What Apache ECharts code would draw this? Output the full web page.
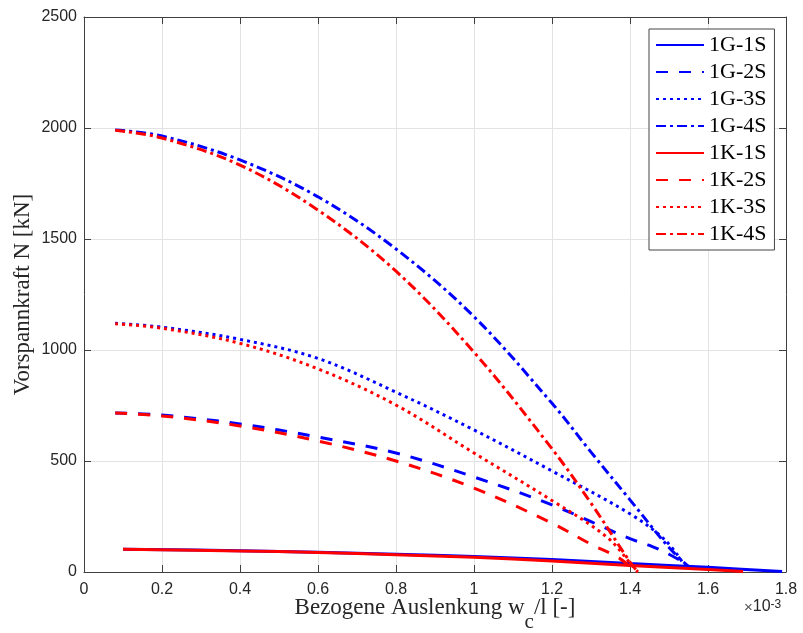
<!DOCTYPE html>
<html>
<head>
<meta charset="utf-8">
<script src="https://cdn.jsdelivr.net/npm/echarts@6/dist/echarts.min.js"></script>
<style>
html,body{margin:0;padding:0;background:#fff;}
#chart{width:803px;height:633px;}
</style>
</head>
<body>
<div id="chart"></div>
<script>
// ---- data (x in 10^-3, y in kN) ----
const xTicks = [0, 0.2, 0.4, 0.6, 0.8, 1, 1.2, 1.4, 1.6, 1.8];
const yTicks = [0, 500, 1000, 1500, 2000, 2500];

const seriesNames = ['1G-1S','1G-2S','1G-3S','1G-4S','1K-1S','1K-2S','1K-3S','1K-4S'];

const g1x = [0.1, 0.4, 0.6, 0.8, 1.0, 1.2, 1.4, 1.6, 1.79];
const g1y = [102, 96, 89, 80, 70, 56, 38, 21, 2];
const g2x = [0.08, 0.2, 0.4, 0.6, 0.8, 1.0, 1.2, 1.4, 1.45, 1.5, 1.55];
const g2y = [716, 707, 667, 608, 536, 428, 302, 150, 120, 80, 30];
const g3x = [0.08, 0.2, 0.4, 0.6, 0.8, 1.0, 1.2, 1.4, 1.49, 1.54];
const g3y = [1120, 1103, 1048, 962, 810, 640, 455, 262, 144, 30];
const g4x = [0.08, 0.2, 0.4, 0.6, 0.8, 1.0, 1.2, 1.3, 1.4, 1.5, 1.55];
const g4y = [1991, 1964, 1856, 1690, 1455, 1150, 760, 540, 325, 110, 25];

const k1x = [0.1, 0.4, 0.6, 0.8, 1.0, 1.2, 1.4, 1.6, 1.69];
const k1y = [102, 95, 88, 78, 66, 49, 29, 11, 2];
const k2x = [0.08, 0.2, 0.4, 0.6, 0.8, 1.0, 1.2, 1.3, 1.37, 1.41, 1.42];
const k2y = [716, 703, 658, 590, 500, 378, 220, 125, 65, 10, 0];
const k3x = [0.08, 0.2, 0.4, 0.6, 0.8, 1.0, 1.2, 1.34, 1.41, 1.42];
const k3y = [1118, 1098, 1030, 915, 752, 536, 322, 158, 20, 0];
const k4x = [0.08, 0.2, 0.4, 0.6, 0.8, 1.0, 1.2, 1.3, 1.4, 1.42];
const k4y = [1990, 1955, 1833, 1630, 1355, 990, 555, 310, 45, 0];

const xs = [g1x, g2x, g3x, g4x, k1x, k2x, k3x, k4x];
const ys = [g1y, g2y, g3y, g4y, k1y, k2y, k3y, k4y];

// ---- styles ----
const colors = ['#0000ff','#0000ff','#0000ff','#0000ff','#ff0000','#ff0000','#ff0000','#ff0000'];
const dashes = ['solid', [12, 11], [3, 4], [10, 4, 3, 4], 'solid', [12, 11], [3, 4], [10, 4, 3, 4]];

const axisColor = '#404040';
const textColor = '#262626';
const gridColor = '#e3e3e3';

const series = seriesNames.map((name, i) => ({
  name: name,
  type: 'line',
  data: xs[i].map((x, j) => [x, ys[i][j]]),
  showSymbol: false,
  symbol: 'none',
  smooth: 0.35,
  color: colors[i],
  lineStyle: { color: colors[i], width: 3, type: dashes[i], cap: 'butt' },
  z: 3 + i,
  animation: false
}));

const chart = echarts.init(document.getElementById('chart'));
chart.setOption({
  animation: false,
  backgroundColor: '#ffffff',
  grid: { left: 84, right: 17, top: 17, bottom: 61, containLabel: false, outerBoundsMode: 'none' },
  xAxis: [{
    type: 'value', min: xTicks[0], max: xTicks[xTicks.length - 1], interval: 0.2,
    position: 'bottom',
    axisLine: { show: true, onZero: false, lineStyle: { color: axisColor, width: 1 } },
    axisTick: { show: true, inside: true, length: 7, lineStyle: { color: axisColor } },
    axisLabel: { color: textColor, fontFamily: 'Liberation Sans', fontSize: 16, margin: 10,
      formatter: v => String(Math.round(v * 10) / 10) },
    splitLine: { show: true, lineStyle: { color: gridColor, width: 1 } },
    name: '{m|Bezogene Auslenkung w}{s|c}{m|/l [-]}',
    nameLocation: 'middle',
    nameGap: 24,
    nameMoveOverlap: false,
    nameTextStyle: {
      color: textColor,
      rich: {
        m: { fontFamily: 'Liberation Serif', fontSize: 23, lineHeight: 23, verticalAlign: 'top', color: textColor },
        s: { fontFamily: 'Liberation Serif', fontSize: 21, lineHeight: 21, verticalAlign: 'top', padding: [16, 0, 0, 0], color: textColor }
      }
    }
  }, {
    type: 'value', min: xTicks[0], max: xTicks[xTicks.length - 1], interval: 0.2,
    position: 'top',
    axisLine: { show: true, onZero: false, lineStyle: { color: axisColor, width: 1 } },
    axisTick: { show: true, inside: true, length: 7, lineStyle: { color: axisColor } },
    axisLabel: { show: false },
    splitLine: { show: false }
  }],
  yAxis: [{
    type: 'value', min: yTicks[0], max: yTicks[yTicks.length - 1], interval: 500,
    position: 'left',
    axisLine: { show: true, onZero: false, lineStyle: { color: axisColor, width: 1 } },
    axisTick: { show: true, inside: true, length: 7, lineStyle: { color: axisColor } },
    axisLabel: { color: textColor, fontFamily: 'Liberation Sans', fontSize: 16, margin: 7,
      formatter: v => String(v) },
    splitLine: { show: true, lineStyle: { color: gridColor, width: 1 } },
    name: 'Vorspannkraft N [kN]',
    nameLocation: 'middle',
    nameGap: 50,
    nameMoveOverlap: false,
    nameTextStyle: { color: textColor, fontFamily: 'Liberation Serif', fontSize: 23 }
  }, {
    type: 'value', min: yTicks[0], max: yTicks[yTicks.length - 1], interval: 500,
    position: 'right',
    axisLine: { show: true, onZero: false, lineStyle: { color: axisColor, width: 1 } },
    axisTick: { show: true, inside: true, length: 7, lineStyle: { color: axisColor } },
    axisLabel: { show: false },
    splitLine: { show: false }
  }],
  legend: {
    orient: 'vertical',
    left: 649,
    top: 29,
    padding: [5, 8, 5, 6],
    itemWidth: 48,
    itemHeight: 14,
    itemGap: 5,
    backgroundColor: '#ffffff',
    borderColor: '#444444',
    borderWidth: 1,
    itemStyle: { opacity: 0 },
    data: seriesNames,
    textStyle: { fontFamily: 'Liberation Serif', fontSize: 22, lineHeight: 22, color: '#000000' }
  },
  graphic: [{
    type: 'text',
    left: 744,
    top: 599,
    style: {
      text: '{x|×}{t|10}{e|-3}',
      rich: {
        x: { fontFamily: 'Liberation Sans', fontSize: 15, fill: '#555555', verticalAlign: 'bottom' },
        t: { fontFamily: 'Liberation Sans', fontSize: 16, fill: textColor, verticalAlign: 'bottom' },
        e: { fontFamily: 'Liberation Sans', fontSize: 12, fill: textColor, verticalAlign: 'top' }
      }
    }
  }],
  series: series
});
</script>
</body>
</html>
